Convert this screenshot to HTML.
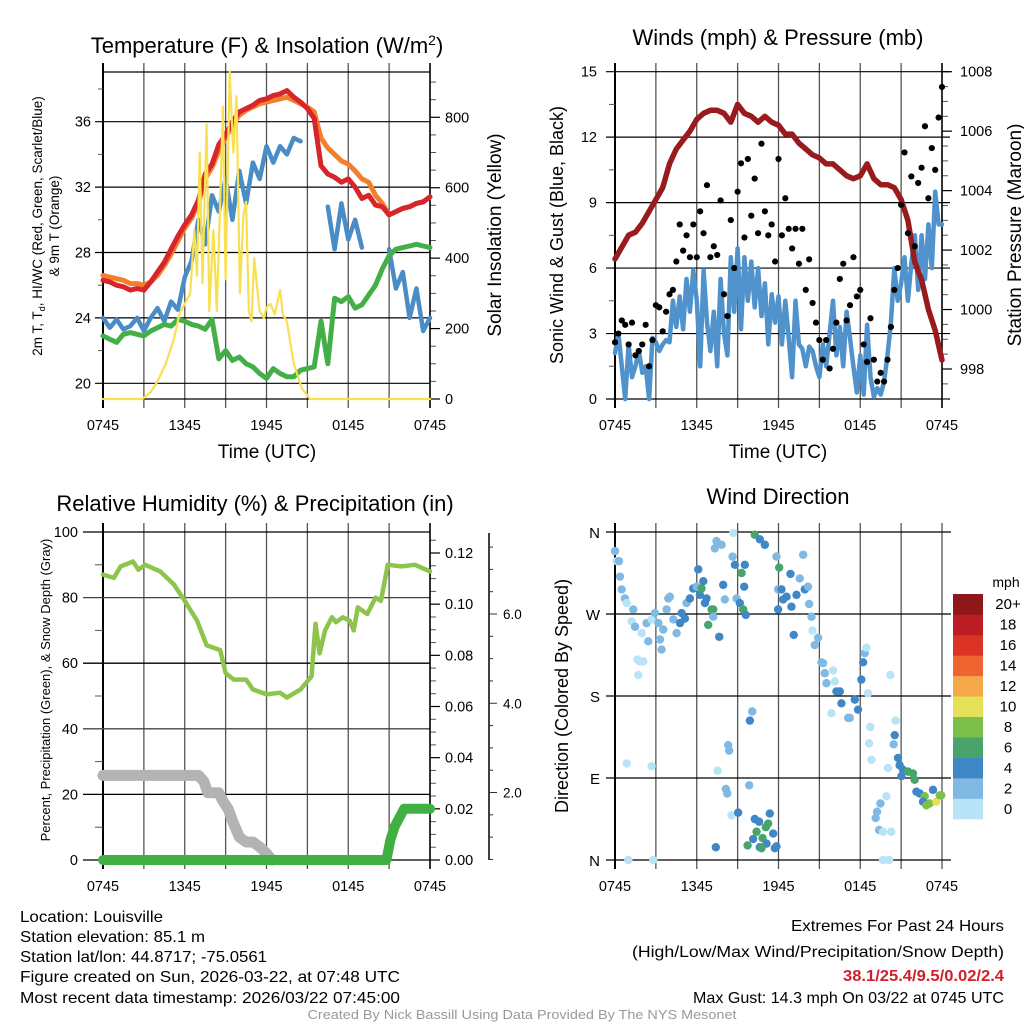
<!DOCTYPE html>
<html><head><meta charset="utf-8"><title>Louisville Meteogram</title>
<style>
html,body{margin:0;padding:0;background:#fff;}
svg{display:block;font-family:"Liberation Sans",sans-serif;}
</style></head>
<body>
<svg id="chart" width="1024" height="1024" viewBox="0 0 1024 1024" xmlns="http://www.w3.org/2000/svg">
<rect x="0" y="0" width="1024" height="1024" fill="#fff"/>
<text x="267" y="53" font-size="22" text-anchor="middle">Temperature (F) &amp; Insolation (W/m<tspan dy="-8" font-size="14">2</tspan><tspan dy="8">)</tspan></text>
<text x="778" y="45" font-size="22" text-anchor="middle">Winds (mph) &amp; Pressure (mb)</text>
<text x="255" y="511" font-size="22" text-anchor="middle">Relative Humidity (%) &amp; Precipitation (in)</text>
<text x="778" y="504" font-size="22" text-anchor="middle">Wind Direction</text>

<text x="267" y="458" font-size="19" text-anchor="middle">Time (UTC)</text>
<text x="778" y="458" font-size="19" text-anchor="middle">Time (UTC)</text>

<text transform="translate(42,226) rotate(-90)" font-size="13.5" text-anchor="middle">2m T, T<tspan font-size="9" dy="3">d</tspan><tspan dy="-3">, HI/WC (Red, Green, Scarlet/Blue)</tspan></text>
<text transform="translate(59,226) rotate(-90)" font-size="13.5" text-anchor="middle">&amp; 9m T (Orange)</text>
<text transform="translate(501,235) rotate(-90)" font-size="19" text-anchor="middle">Solar Insolation (Yellow)</text>
<text transform="translate(563,235) rotate(-90)" font-size="18" text-anchor="middle">Sonic Wind &amp; Gust (Blue, Black)</text>
<text transform="translate(1021,235) rotate(-90)" font-size="19" text-anchor="middle">Station Pressure (Maroon)</text>
<text transform="translate(50,690) rotate(-90)" font-size="13" text-anchor="middle">Percent, Precipitation (Green), &amp; Snow Depth (Gray)</text>
<text transform="translate(568,696) rotate(-90)" font-size="18" text-anchor="middle">Direction (Colored By Speed)</text>

<g font-size="16">
<text x="20" y="922" textLength="143" lengthAdjust="spacingAndGlyphs">Location: Louisville</text>
<text x="20" y="942" textLength="185" lengthAdjust="spacingAndGlyphs">Station elevation: 85.1 m</text>
<text x="20" y="962" textLength="247" lengthAdjust="spacingAndGlyphs">Station lat/lon: 44.8717; -75.0561</text>
<text x="20" y="982" textLength="380" lengthAdjust="spacingAndGlyphs">Figure created on Sun, 2026-03-22, at 07:48 UTC</text>
<text x="20" y="1003" textLength="380" lengthAdjust="spacingAndGlyphs">Most recent data timestamp: 2026/03/22 07:45:00</text>
</g>
<g font-size="16" text-anchor="end">
<text x="1004" y="931" textLength="213" lengthAdjust="spacingAndGlyphs">Extremes For Past 24 Hours</text>
<text x="1004" y="957" textLength="372" lengthAdjust="spacingAndGlyphs">(High/Low/Max Wind/Precipitation/Snow Depth)</text>
<text x="1004" y="981" fill="#d0202a" font-weight="bold" textLength="161" lengthAdjust="spacingAndGlyphs">38.1/25.4/9.5/0.02/2.4</text>
<text x="1004" y="1003" textLength="311" lengthAdjust="spacingAndGlyphs">Max Gust: 14.3 mph On 03/22 at 0745 UTC</text>
</g>
<text x="522" y="1019" font-size="12.5" fill="#999" text-anchor="middle" textLength="429" lengthAdjust="spacingAndGlyphs">Created By Nick Bassill Using Data Provided By The NYS Mesonet</text>
</svg>
<script>
// ---------- data ----------
const xTickLabels = ['0745','1345','1945','0145','0745'];
const halfHours = [0,0.5,1,1.5,2,2.5,3,3.5,4,4.5,5,5.5,6,6.5,7,7.5,8,8.5,9,9.5,10,10.5,11,11.5,12,12.5,13,13.5,14,14.5,15,15.5,16,16.5,17,17.5,18,18.5,19,19.5,20,20.5,21,21.5,22,22.5,23,23.5,24];
const tempRed = [26.3,26.2,26.0,25.9,25.7,25.8,25.7,26.2,26.8,27.4,28.2,29.0,29.7,30.3,31.2,32.8,33.4,34.6,35.2,36.0,36.6,36.8,37.0,37.3,37.4,37.6,37.7,37.9,37.5,37.2,36.8,36.2,33.3,32.8,32.6,32.3,32.5,32.0,31.3,31.5,30.9,30.8,30.3,30.5,30.7,30.8,31.0,31.1,31.4];
const temp9m = [26.6,26.5,26.4,26.3,26.1,26.1,26.0,26.2,26.6,27.2,27.9,28.7,29.5,30.1,31.0,32.5,33.2,34.2,35.0,35.8,36.4,36.7,36.9,37.1,37.2,37.3,37.4,37.5,37.3,37.1,36.9,36.6,35.0,34.4,34.0,33.6,33.4,33.0,32.5,32.3,31.5,31.0,30.3,30.5,30.7,30.8,31.0,31.1,31.4];
const dewGreen = [22.9,22.7,22.5,23.0,23.1,23.0,22.9,23.2,23.4,23.6,23.5,23.9,23.8,23.6,23.5,23.3,23.9,21.5,22.0,21.4,21.6,21.2,21.0,20.6,20.3,20.9,20.6,20.4,20.4,20.8,20.9,21.0,23.8,21.2,25.2,25.0,25.3,24.6,24.8,25.4,26.0,27.0,27.8,28.2,28.3,28.4,28.5,28.4,28.3];
const windChill = [24.0,23.4,23.9,23.3,23.5,24.0,23.2,24.0,24.6,23.8,25.0,24.5,26.5,27.5,30.0,28.5,31.5,30.5,32.5,30.0,33.0,31.0,33.5,32.5,34.5,33.5,34.5,34.0,35.0,34.8,null,null,null,30.8,28.2,31.0,28.8,30.0,28.3,null,null,null,28.2,25.8,26.8,24.0,25.8,23.2,24.0];
const solarT = [0,2.9,3.5,4.0,4.6,5.2,5.6,6.0,6.4,6.7,6.9,7.1,7.3,7.6,7.8,8.1,8.35,8.6,8.8,9.0,9.3,9.56,9.8,10.05,10.3,10.5,10.7,10.9,11.1,11.3,11.5,11.8,12.0,12.3,12.6,13.0,13.2,13.5,14.0,14.6,15.2,24];
const solarV = [0,0,20,50,100,170,240,270,300,480,350,700,330,780,250,480,250,560,830,340,930,700,860,300,520,560,250,220,400,320,250,230,260,270,240,310,240,220,100,30,0,0];
const pressure = [1001.7,1002.1,1002.5,1002.6,1002.9,1003.3,1003.7,1004.1,1004.9,1005.4,1005.7,1006.0,1006.4,1006.6,1006.7,1006.7,1006.6,1006.3,1006.9,1006.6,1006.5,1006.3,1006.5,1006.3,1006.2,1005.9,1005.9,1005.6,1005.4,1005.2,1005.1,1004.9,1004.9,1004.7,1004.5,1004.4,1004.5,1004.9,1004.4,1004.2,1004.2,1004.1,1003.7,1003.0,1001.6,1001.0,1000.0,999.3,998.3];
const windSpeed = [2.1,3.0,1.5,0.0,2.5,1.0,1.5,2.2,1.2,1.5,0.0,2.8,2.6,2.2,2.5,2.7,2.6,4.5,3.3,4.7,3.2,5.5,4.0,5.9,4.5,1.5,5.9,3.5,2.2,4.0,1.5,5.5,3.0,2.0,6.5,4.0,6.9,3.2,6.5,4.5,6.3,4.2,6.0,3.8,5.3,2.5,4.8,3.5,4.7,2.5,4.5,2.8,1.0,4.5,2.5,2.3,1.5,2.4,2.2,1.5,1.0,2.5,1.5,3.0,4.5,2.0,3.3,1.5,4.0,2.8,1.5,0.3,2.0,0.2,3.4,1.0,0.1,0.5,0.2,0.8,2.0,3.5,6.0,4.5,5.3,6.5,4.5,6.2,7.5,5.0,7.5,5.5,8.0,6.0,9.5,8.0,8.0];
const windGust = [2.6,3.0,3.6,3.4,2.5,3.5,2.0,2.2,2.5,3.4,1.5,2.7,4.3,4.2,3.1,4.0,4.8,5.0,6.3,8.0,6.8,7.5,6.5,8.0,6.5,8.6,7.6,9.8,6.5,7.0,6.6,9.1,4.8,3.8,8.2,6.0,9.5,10.8,7.4,11.0,8.4,10.1,7.6,11.7,8.6,7.5,8.0,6.3,11.0,7.5,9.2,7.8,6.9,7.8,6.2,7.8,5.0,6.4,4.4,3.5,2.7,1.8,2.7,1.4,2.3,3.5,5.5,6.2,3.6,4.3,6.5,4.7,5.0,2.5,1.7,3.7,1.8,0.8,1.2,0.8,1.8,3.3,5.0,6.0,8.9,11.3,7.6,10.2,7.0,9.9,10.6,12.5,9.2,11.5,10.5,12.9,14.3];
const rhT = [0,0.8,1.3,2.2,2.6,3.1,4.2,5.2,6.0,6.9,7.6,8.6,9.0,9.6,10.5,11.0,12.0,13.0,13.5,14.5,15.3,15.6,15.9,16.3,16.8,17.1,17.6,18.1,18.4,18.7,19.4,20.0,20.4,20.9,21.9,22.9,24];
const rhV = [87,86,89.5,91,88.5,90,88,84,79,73,65.5,64,57,55,55,52,50.5,51,49.5,52,56,72,63,70,74,72.5,74,73,70,77,75,80,79,90,89.5,90,88];
const snowT = [0,7.0,7.4,7.7,8.5,8.8,9.2,9.5,10.0,10.5,11.0,11.5,12.0,12.4];
const snowV = [25.8,25.8,24,20.5,20.5,18,15.5,12,7,5.5,5.5,4,2,0];
const precipT = [0,20.8,21.1,21.4,21.8,22.1,24];
const precipV = [0,0,0.008,0.013,0.017,0.02,0.02];
const dirT = [0.00,0.12,0.29,0.37,0.49,0.73,0.86,1.34,1.22,1.47,1.64,1.83,2.08,1.71,1.96,2.32,2.44,2.69,2.93,3.18,3.30,3.42,3.54,3.79,3.91,4.03,4.28,4.52,4.77,4.89,5.13,5.25,5.50,5.74,5.99,6.11,6.23,6.35,6.48,6.60,6.72,6.84,7.09,7.21,7.21,7.33,7.45,7.65,7.82,7.94,8.06,8.68,8.63,8.80,8.92,9.16,9.29,9.41,9.48,9.53,9.60,10.26,10.63,11.00,11.85,12.05,11.97,12.22,11.97,12.34,12.59,12.88,12.95,13.12,13.32,13.56,13.81,13.93,14.17,14.25,14.42,14.49,14.66,14.91,15.15,15.27,15.40,15.52,16.01,16.13,16.25,16.50,16.62,15.88,17.11,17.23,17.60,17.84,18.08,18.21,18.33,18.45,18.57,18.74,18.65,18.82,20.04,20.21,20.60,20.53,20.45,20.77,20.89,21.14,21.02,21.51,21.87,21.99,22.12,22.36,22.73,22.61,22.85,23.09,23.34,23.58,23.83,23.95,19.48,19.23,19.13,19.38,19.67,20.28,19.92,19.67,20.11,0.86,2.69,0.98,2.81,7.53,8.14,8.24,8.31,8.38,8.55,9.04,9.85,9.90,10.07,7.40,9.73,10.14,10.26,10.39,10.58,10.63,10.83,11.07,11.24,11.36,11.12,11.61,11.73,11.85,10.75];
const dirDeg = [339,328,328,311,297,287,282,275,262,256,220,218,218,203,249,260,240,264,271,260,242,231,253,275,287,289,264,249,260,271,265,282,287,298,300,319,291,298,306,282,287,258,275,275,267,342,350,245,346,302,286,359,333,324,287,282,315,275,300,324,269,357,352,346,333,321,297,297,275,286,289,314,278,247,291,309,335,297,300,281,267,252,236,244,217,216,205,194,208,196,185,185,172,161,156,156,176,165,198,217,227,233,183,146,128,110,101,203,153,137,127,112,104,99,92,97,95,88,75,73,70,64,60,62,77,64,71,71,62,53,46,33,31,31,70,0,0,106,103,0,0,98,78,73,126,120,49,52,82,153,163,14,16,23,45,31,42,14,24,36,40,51,18,29,13,15,13];
const dirSpeed = [3,1,3,3,3,3,1,3,1,3,1,1,1,1,1,3,3,1,3,3,3,3,3,3,3,3,3,3,5,5,5,3,5,5,3,5,5,7,5,5,5,7,7,7,3,3,3,5,3,5,3,1,3,5,3,5,7,7,5,5,5,7,5,5,3,7,3,5,5,5,5,5,5,5,5,3,3,5,3,3,3,1,3,3,3,3,3,3,1,1,5,5,5,1,3,3,5,5,5,5,3,1,1,1,1,1,1,1,1,5,3,5,5,5,5,7,7,7,5,5,9,5,9,9,5,10.5,9,9,3,3,3,3,1,1,1,1,1,1,1,1,1,1,3,3,3,3,1,5,3,5,3,5,7,5,5,7,5,5,7,7,7,5,5,5,5,5,7];
const speedColors = ['#b9e3f7','#7fb9e4','#3f87c6','#48a46b','#7cc04a','#e5e05a','#f5a84a','#ee6531','#dc3327','#bd1d24','#8e1719'];
const speedLabels = ['0','2','4','6','8','10','12','14','16','18','20+'];
const tempTicks = [20,24,28,32,36];
const solarTicks = [0,200,400,600,800];
const windTicks = [0,3,6,9,12,15];
const pressTicks = [998,1000,1002,1004,1006,1008];
const rhTicks = [0,20,40,60,80,100];
const precipTicks = [0,0.02,0.04,0.06,0.08,0.10,0.12];
const snowTicks = [2,4,6];
const dirTicks = [0,90,180,270,360];
const dirLabels = ['N','E','S','W','N'];

// ---------- helpers ----------
const NS='http://www.w3.org/2000/svg';
const svg=document.getElementById('chart');
function mk(tag,attrs,parent){const e=document.createElementNS(NS,tag);for(const k in attrs)e.setAttribute(k,attrs[k]);(parent||svg).appendChild(e);return e;}
function lin(d0,d1,r0,r1){return v=>r0+(v-d0)*(r1-r0)/(d1-d0);}
function pathD(ts,vs,sx,sy){let d='',pen=false;for(let i=0;i<ts.length;i++){if(vs[i]===null){pen=false;continue;}d+=(pen?'L':'M')+sx(ts[i]).toFixed(1)+','+sy(vs[i]).toFixed(1);pen=true;}return d;}

function panelFrame(name,x0,x1,y0,y1,labelY){
  const g=mk('g',{});
  
  
  const sx=lin(0,24,x0,x1);
  for(let h=0;h<=24;h+=3){
    const l=mk('line',{x1:sx(h),x2:sx(h),y1:y0-9,y2:y1+9,stroke:(h===0?'#000':'#555'),'stroke-width':(h===0?2:1.3)},g);
    
    
  }
  xTickLabels.forEach((s,i)=>{
    const t=mk('text',{x:sx(i*6),y:labelY,'font-size':14.5,'text-anchor':'middle'},g);
    t.textContent=s;
    
    
  });
  return sx;
}
function hLine(g,name,x0,x1,y,w,col){const l=mk('line',{x1:x0,x2:x1,y1:y,y2:y,stroke:col||'#000','stroke-width':w||1.2},g);return l;}
function label(g,name,x,y,s,anchor,size){const t=mk('text',{x:x,y:y,'font-size':size||14.5,'text-anchor':anchor||'end'},g);t.textContent=s;return t;}
function line(name,ts,vs,sx,sy,col,w){const p=mk('path',{d:pathD(ts,vs,sx,sy),fill:'none',stroke:col,'stroke-width':w,'stroke-linejoin':'round','stroke-linecap':'round'});return p;}

// ---------- panel 1: temperature ----------
{
  const X0=103,X1=430,Y0=72,Y1=399;
  const sx=panelFrame('temperature',X0,X1,Y0,Y1,430);
  const sy=lin(20,36,383.3,121.7);
  const ss=lin(0,800,399,117.3);
  const g=mk('g',{});
  
  
  tempTicks.forEach(v=>{hLine(g,'temperature-gridline',X0-8,X1,sy(v));label(g,'temperature-y-tick-label',X0-12,sy(v)+5,String(v));});
  for(let v=22;v<=38;v+=4){hLine(g,'temperature-minor-tick',X0-5,X0,sy(v),1,'#555');}
  hLine(g,'temperature-top-border',X0,X1,Y0);hLine(g,'temperature-bottom-border',X0,X1,Y1);
  solarTicks.forEach(v=>{hLine(g,'solar-major-tick',X1,X1+10,ss(v));label(g,'solar-y-tick-label',X1+15,ss(v)+5,String(v),'start');});
  for(let v=50;v<=900;v+=50){if(v%200)hLine(g,'solar-minor-tick',X1,X1+6,ss(v),1,'#555');}
  const ax=mk('line',{x1:X1,x2:X1,y1:Y0-9,y2:Y1+9,stroke:'#000','stroke-width':1.5},g);
  
  
  line('temp-9m-line',halfHours,temp9m,sx,sy,'#f47f2a',5);
  line('temp-2m-line',halfHours,tempRed,sx,sy,'#d7262b',5);
  line('windchill-line',halfHours,windChill,sx,sy,'#4a8cc6',4.5);
  line('dewpoint-line',halfHours,dewGreen,sx,sy,'#43b047',5);
  line('solar-line',solarT,solarV,sx,ss,'#f8e050',2.2);
}

// ---------- panel 2: wind & pressure ----------
{
  const X0=615,X1=942,Y0=72,Y1=399;
  const sx=panelFrame('wind',X0,X1,Y0,Y1,430);
  const sy=lin(0,15,399,71.7);
  const sp=lin(998,1008,369,71.7);
  const g=mk('g',{});
  
  
  windTicks.forEach(v=>{hLine(g,'wind-gridline',X0-9,X1+8,sy(v));label(g,'wind-y-tick-label',X0-18,sy(v)+5,String(v));});
  for(let v=1.5;v<15;v+=3){hLine(g,'wind-minor-tick',X0-6,X0,sy(v),1,'#555');}
  pressTicks.forEach(v=>{hLine(g,'pressure-major-tick',X1,X1+10,sp(v));label(g,'pressure-y-tick-label',X1+18,sp(v)+5,String(v),'start');});
  for(let v=997;v<=1008;v+=0.5){if(v%2)hLine(g,'pressure-minor-tick',X1,X1+6,sp(v),1,'#555');}
  const ax=mk('line',{x1:X1,x2:X1,y1:Y0-9,y2:Y1+9,stroke:'#000','stroke-width':1.5},g);
  
  
  const wt=windSpeed.map((v,i)=>i*0.25);
  line('wind-speed-line',wt,windSpeed,sx,sy,'#4f92cc',4.5);
  line('pressure-line',halfHours,pressure,sx,sp,'#9a1b1e',5.5);
  const dg=mk('g',{});
  
  
  windGust.forEach((v,i)=>{
    const c=mk('circle',{cx:sx(i*0.25),cy:sy(v),r:3.1,fill:'#000'},dg);
    
    
  });
}

// ---------- panel 3: RH & precip ----------
{
  const X0=103,X1=430,Y0=532,Y1=860;
  const sx=panelFrame('humidity',X0,X1,Y0,Y1,891);
  const sy=lin(0,100,860,532);
  const sp=lin(0,0.12,860,553);
  const sn=lin(2,6,792.5,614);
  const g=mk('g',{});
  
  
  rhTicks.forEach(v=>{hLine(g,'humidity-gridline',X0-20,X1,sy(v),1.3,(v%40===0&&v>0)?'#444':'#000');label(g,'humidity-y-tick-label',X0-25,sy(v)+5,String(v));});
  for(let v=10;v<100;v+=20){hLine(g,'humidity-minor-tick',X0-8,X0,sy(v),1,'#555');}
  precipTicks.forEach(v=>{hLine(g,'precip-major-tick',X1,X1+10,sp(v));label(g,'precip-y-tick-label',X1+15,sp(v)+5,v.toFixed(2),'start');});
  for(let v=0.005;v<0.128;v+=0.005){if(Math.round(v*1000)%20)hLine(g,'precip-minor-tick',X1,X1+6,sp(v),1,'#555');}
  const ax=mk('line',{x1:X1,x2:X1,y1:Y0-9,y2:Y1+9,stroke:'#000','stroke-width':1.5},g);
  
  
  const ax2=mk('line',{x1:489,x2:489,y1:533,y2:860,stroke:'#000','stroke-width':1.5},g);
  
  
  for(let v=0.5;v<=7.5;v+=0.5){hLine(g,v%2?'snow-minor-tick':'snow-major-tick',489,v%2?493:497,sn(v),1,'#333');}
  snowTicks.forEach(v=>{label(g,'snow-y-tick-label',503,sn(v)+5,v.toFixed(1),'start',13.5);});
  line('snow-depth-line',snowT,snowV,sx,sy,'#b3b3b3',11);
  line('precip-line',precipT,precipV,sx,sp,'#41b043',10);
  line('humidity-line',rhT,rhV,sx,sy,'#8dc44c',4.5);
}

// ---------- panel 4: wind direction ----------
{
  const X0=615,X1=942,Y0=532,Y1=860;
  const sx=panelFrame('direction',X0,X1,Y0,Y1,891);
  const sy=lin(0,360,860,532);
  const g=mk('g',{});
  
  
  dirTicks.forEach((v,i)=>{hLine(g,'direction-gridline',X0-9,X1+9,sy(v));label(g,'direction-y-tick-label',X0-15,sy(v)+6,dirLabels[i],'end',15);});
  const dg=mk('g',{});
  
  
  dirT.forEach((t,i)=>{
    const bin=Math.min(10,Math.floor(dirSpeed[i]/2));
    const c=mk('circle',{cx:sx(t),cy:sy(dirDeg[i]),r:4.2,fill:speedColors[bin]},dg);
    
    
  });
  const lg=mk('g',{});
  
  
  const bh=225/11;
  speedColors.forEach((col,i)=>{
    const y=594+(10-i)*bh;
    const r=mk('rect',{x:953,y:y,width:30,height:bh+0.3,fill:col},lg);
    
    
    label(lg,'colorbar-label',1008,y+bh/2+5,speedLabels[i],'middle',15);
  });
  label(lg,'colorbar-title',1006,587,'mph','middle',14);
}
</script>
</body></html>
